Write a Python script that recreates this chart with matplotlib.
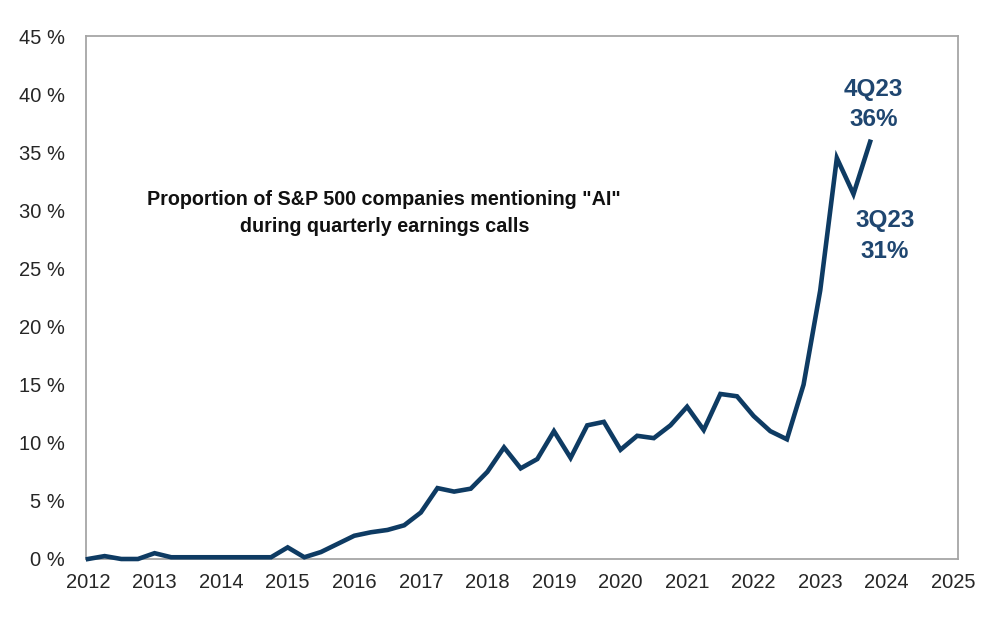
import matplotlib
matplotlib.use("Agg")
import matplotlib.pyplot as plt
import numpy as np

# Quarterly data, 1Q12 .. 4Q23
years_start = 2012.0
quarter_step = 0.25
ai_share = [
    0.0, 0.25, 0.0, 0.0,        # 2012
    0.5, 0.15, 0.15, 0.15,      # 2013
    0.15, 0.15, 0.15, 0.15,     # 2014
    1.0, 0.15, 0.6, 1.3,        # 2015
    2.0, 2.3, 2.5, 2.9,         # 2016
    4.0, 6.1, 5.8, 6.05,        # 2017
    7.5, 9.6, 7.8, 8.6,         # 2018
    11.0, 8.7, 11.5, 11.8,      # 2019
    9.4, 10.6, 10.4, 11.5,      # 2020
    13.1, 11.1, 14.2, 14.0,     # 2021
    12.3, 11.0, 10.3, 15.0,     # 2022
    23.1, 34.5, 31.4, 35.9,     # 2023
]
x_ticks = list(range(2012, 2026))
y_ticks = list(range(0, 50, 5))
title_text = 'Proportion of S&P 500 companies mentioning "AI"\nduring quarterly earnings calls'
ann_4q = "4Q23\n36%"
ann_3q = "3Q23\n31%"

x = years_start + quarter_step * np.arange(len(ai_share))

plt.rcParams['font.family'] = ['Liberation Sans', 'DejaVu Sans']

fig = plt.figure(figsize=(9.99, 6.29), dpi=100)
ax = fig.add_axes([86/999, 1 - 559/629, (958-86)/999, (559-36)/629])

line_color = '#0E3B63'
ax.plot(x, ai_share, color=line_color, lw=3.3, solid_joinstyle='miter', clip_on=False, zorder=3)

ax.set_xlim(2011.97, 2025.07)
ax.set_ylim(0, 45)
ax.set_xticks(x_ticks)
ax.set_xticklabels([str(t) for t in x_ticks])
ax.set_yticks(y_ticks)
ax.set_yticklabels([f"{t} %" for t in y_ticks])
ax.tick_params(length=0, labelsize=14.5, colors='#262626')
ax.tick_params(axis='y', pad=15)
ax.tick_params(axis='x', pad=10)

for s in ax.spines.values():
    s.set_color('#A6A6A6')
    s.set_linewidth(1.3)

ax.text(2016.45, 29.8, title_text, ha='center', va='center', fontsize=14.2,
        fontweight='bold', color='#111111', linespacing=1.55)

ax.text(2023.8, 39.1, ann_4q, ha='center', va='center', fontsize=17.5,
        fontweight='bold', color='#1F4670', linespacing=1.4)
ax.text(2023.97, 27.8, ann_3q, ha='center', va='center', fontsize=17.5,
        fontweight='bold', color='#1F4670', linespacing=1.4)

fig.savefig("out.png", dpi=100, facecolor='white')
